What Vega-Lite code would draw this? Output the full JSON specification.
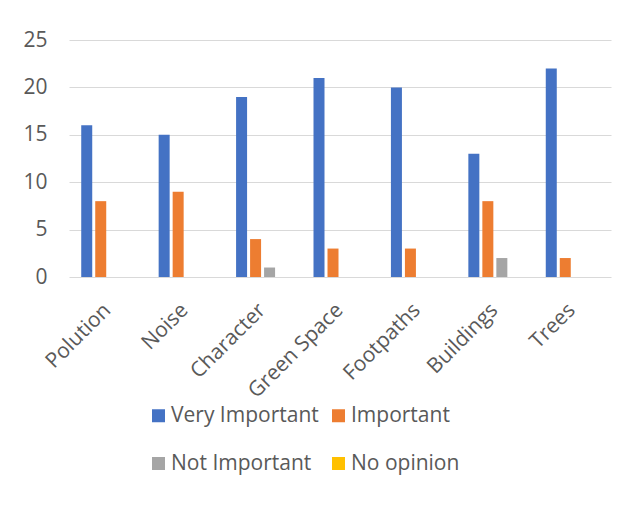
{
  "$schema": "https://vega.github.io/schema/vega-lite/v6.json",
  "width": 542,
  "height": 237,
  "autosize": {"type": "none"},
  "padding": {"left": 69, "top": 40, "right": 24, "bottom": 246},
  "background": "white",
  "config": {
    "view": {"stroke": null},
    "font": "Open Sans",
    "axis": {"labelColor": "#595959", "labelFont": "Open Sans"},
    "legend": {"labelColor": "#595959", "labelFont": "Open Sans"}
  },
  "data": {
    "values": [
      {"category": "Polution", "series": "Very Important", "value": 16},
      {"category": "Polution", "series": "Important", "value": 8},
      {"category": "Polution", "series": "Not Important", "value": 0},
      {"category": "Polution", "series": "No opinion", "value": 0},
      {"category": "Noise", "series": "Very Important", "value": 15},
      {"category": "Noise", "series": "Important", "value": 9},
      {"category": "Noise", "series": "Not Important", "value": 0},
      {"category": "Noise", "series": "No opinion", "value": 0},
      {"category": "Character", "series": "Very Important", "value": 19},
      {"category": "Character", "series": "Important", "value": 4},
      {"category": "Character", "series": "Not Important", "value": 1},
      {"category": "Character", "series": "No opinion", "value": 0},
      {"category": "Green Space", "series": "Very Important", "value": 21},
      {"category": "Green Space", "series": "Important", "value": 3},
      {"category": "Green Space", "series": "Not Important", "value": 0},
      {"category": "Green Space", "series": "No opinion", "value": 0},
      {"category": "Footpaths", "series": "Very Important", "value": 20},
      {"category": "Footpaths", "series": "Important", "value": 3},
      {"category": "Footpaths", "series": "Not Important", "value": 0},
      {"category": "Footpaths", "series": "No opinion", "value": 0},
      {"category": "Buildings", "series": "Very Important", "value": 13},
      {"category": "Buildings", "series": "Important", "value": 8},
      {"category": "Buildings", "series": "Not Important", "value": 2},
      {"category": "Buildings", "series": "No opinion", "value": 0},
      {"category": "Trees", "series": "Very Important", "value": 22},
      {"category": "Trees", "series": "Important", "value": 2},
      {"category": "Trees", "series": "Not Important", "value": 0},
      {"category": "Trees", "series": "No opinion", "value": 0}
    ]
  },
  "mark": {"type": "bar"},
  "encoding": {
    "x": {
      "field": "category",
      "type": "nominal",
      "sort": ["Polution", "Noise", "Character", "Green Space", "Footpaths", "Buildings", "Trees"],
      "scale": {"paddingInner": 0.3155, "paddingOuter": 0.158},
      "axis": {
        "title": null,
        "domain": false,
        "ticks": false,
        "labelAngle": -45,
        "labelAlign": "right",
        "labelBaseline": "top",
        "labelPadding": 22,
        "labelOffset": -8,
        "labelFontSize": 21
      }
    },
    "xOffset": {
      "field": "series",
      "sort": ["Very Important", "Important", "Not Important", "No opinion"],
      "scale": {"paddingInner": 0.214, "paddingOuter": 0}
    },
    "y": {
      "field": "value",
      "type": "quantitative",
      "scale": {"domain": [0, 25], "nice": false},
      "axis": {
        "title": null,
        "domain": false,
        "ticks": false,
        "values": [0, 5, 10, 15, 20, 25],
        "gridColor": "#d9d9d9",
        "gridWidth": 1.2,
        "labelPadding": 22,
        "labelFontSize": 21
      }
    },
    "color": {
      "field": "series",
      "type": "nominal",
      "sort": ["Very Important", "Important", "Not Important", "No opinion"],
      "scale": {
        "domain": ["Very Important", "Important", "Not Important", "No opinion"],
        "range": ["#4472C4", "#ED7D31", "#A5A5A5", "#FFC000"]
      },
      "legend": {
        "title": null,
        "orient": "none",
        "legendX": 79,
        "legendY": 365,
        "padding": 0,
        "direction": "horizontal",
        "columns": 2,
        "symbolType": "square",
        "symbolSize": 169,
        "symbolStrokeWidth": 0,
        "symbolOpacity": 1,
        "labelFontSize": 21,
        "labelOffset": 2,
        "rowPadding": 26,
        "columnPadding": 9
      }
    }
  }
}
